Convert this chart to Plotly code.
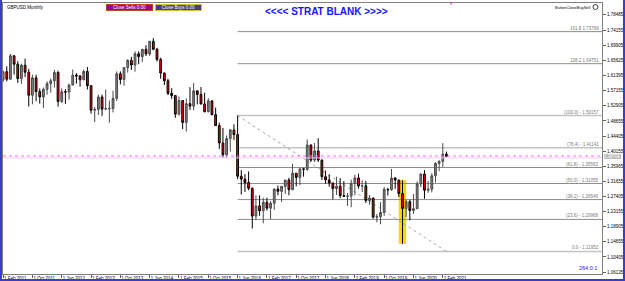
import plotly.graph_objects as go

# ---------------- data (GBPUSD, monthly) ----------------
months = [
    "2011-02","2011-03","2011-04","2011-05","2011-06","2011-07","2011-08","2011-09","2011-10","2011-11","2011-12",
    "2012-01","2012-02","2012-03","2012-04","2012-05","2012-06","2012-07","2012-08","2012-09","2012-10","2012-11","2012-12",
    "2013-01","2013-02","2013-03","2013-04","2013-05","2013-06","2013-07","2013-08","2013-09","2013-10","2013-11","2013-12",
    "2014-01","2014-02","2014-03","2014-04","2014-05","2014-06","2014-07","2014-08","2014-09","2014-10","2014-11","2014-12",
    "2015-01","2015-02","2015-03","2015-04","2015-05","2015-06","2015-07","2015-08","2015-09","2015-10","2015-11","2015-12",
    "2016-01","2016-02","2016-03","2016-04","2016-05","2016-06","2016-07","2016-08","2016-09","2016-10","2016-11","2016-12",
    "2017-01","2017-02","2017-03","2017-04","2017-05","2017-06","2017-07","2017-08","2017-09","2017-10","2017-11","2017-12",
    "2018-01","2018-02","2018-03","2018-04","2018-05","2018-06","2018-07","2018-08","2018-09","2018-10","2018-11","2018-12",
    "2019-01","2019-02","2019-03","2019-04","2019-05","2019-06","2019-07","2019-08","2019-09","2019-10","2019-11","2019-12",
    "2020-01","2020-02","2020-03","2020-04","2020-05","2020-06","2020-07","2020-08","2020-09","2020-10","2020-11","2020-12",
    "2021-01","2021-02","2021-03",
]
opens = [
    1.6015,1.6250,1.6040,1.6697,1.6461,1.6057,1.6432,1.6235,1.5587,1.6076,1.5693,
    1.5540,1.5755,1.5914,1.5995,1.6226,1.5414,1.5685,1.5678,1.5874,1.6153,1.6129,1.6024,
    1.6255,1.5856,1.5168,1.5186,1.5538,1.5198,1.5207,1.5218,1.5500,1.6191,1.6031,1.6364,
    1.6565,1.6437,1.6753,1.6674,1.6880,1.6750,1.7105,1.6880,1.6595,1.6212,1.5996,1.5640,
    1.5578,1.5056,1.5438,1.4824,1.5351,1.5281,1.5711,1.5612,1.5343,1.5126,1.5430,1.5042,
    1.4734,1.4246,1.3918,1.4369,1.4611,1.4481,1.3310,1.3231,1.3133,1.2973,1.2190,1.2477,
    1.2340,1.2580,1.2414,1.2551,1.2950,1.2886,1.3026,1.3202,1.2934,1.3397,1.3279,1.3517,
    1.3504,1.4190,1.3764,1.4023,1.3765,1.3297,1.3207,1.3122,1.2965,1.3031,1.2765,1.2747,
    1.2754,1.3110,1.3262,1.3035,1.3042,1.2627,1.2696,1.2160,1.2170,1.2293,1.2941,1.2931,
    1.3260,1.3203,1.2824,1.2404,1.2595,1.2349,1.2398,1.3094,1.3372,1.2918,1.2945,1.3324,
    1.3672,1.3730,1.3932,
]
highs = [
    1.6279,1.6402,1.6747,1.6704,1.6546,1.6476,1.6618,1.6330,1.6165,1.6166,1.5779,
    1.5807,1.5978,1.6062,1.6301,1.6279,1.5778,1.5760,1.5913,1.6309,1.6211,1.6150,1.6308,
    1.6381,1.5870,1.5262,1.5605,1.5605,1.5752,1.5443,1.5717,1.6258,1.6259,1.6385,1.6603,
    1.6668,1.6822,1.6823,1.6854,1.6996,1.7107,1.7191,1.6920,1.6644,1.6226,1.6050,1.5786,
    1.5590,1.5553,1.5449,1.5498,1.5815,1.5930,1.5730,1.5819,1.5658,1.5508,1.5440,1.5242,
    1.4817,1.4668,1.4458,1.4639,1.4770,1.5018,1.3480,1.3372,1.3445,1.2994,1.2775,1.2775,
    1.2706,1.2706,1.2615,1.2966,1.3047,1.3030,1.3210,1.3267,1.3657,1.3400,1.3549,1.3550,
    1.4345,1.4200,1.4245,1.4377,1.3782,1.3473,1.3363,1.3125,1.3298,1.3258,1.3175,1.2839,
    1.3216,1.3350,1.3383,1.3197,1.3176,1.2783,1.2710,1.2250,1.2582,1.3012,1.2985,1.3515,
    1.3285,1.3214,1.3200,1.2648,1.2647,1.2813,1.3170,1.3390,1.3482,1.3177,1.3398,1.3703,
    1.3759,1.4241,1.4003,
]
lows = [
    1.5960,1.5977,1.6020,1.6166,1.5935,1.5908,1.6101,1.5270,1.5332,1.5421,1.5352,
    1.5233,1.5604,1.5658,1.5804,1.5268,1.5370,1.5346,1.5465,1.5868,1.5914,1.5826,1.6004,
    1.5748,1.5073,1.4831,1.5030,1.5008,1.5169,1.4814,1.5105,1.5426,1.5894,1.5855,1.6224,
    1.6297,1.6251,1.6461,1.6518,1.6692,1.6692,1.6855,1.6535,1.6052,1.5875,1.5591,1.5485,
    1.4951,1.5015,1.4633,1.4565,1.5170,1.5170,1.5330,1.5330,1.5106,1.5106,1.5027,1.4730,
    1.4080,1.3836,1.3835,1.4005,1.4330,1.3228,1.2798,1.2865,1.2917,1.1841,1.2086,1.2198,
    1.1986,1.2346,1.2109,1.2366,1.2772,1.2588,1.2812,1.2774,1.2916,1.3027,1.3062,1.3300,
    1.3460,1.3713,1.3712,1.3714,1.3204,1.3100,1.3014,1.2661,1.2785,1.2696,1.2723,1.2477,
    1.2438,1.2773,1.2960,1.2866,1.2559,1.2506,1.2119,1.2014,1.1959,1.2195,1.2769,1.2905,
    1.2954,1.2725,1.1409,1.2165,1.2075,1.2252,1.2390,1.3005,1.2676,1.2845,1.2855,1.3134,
    1.3451,1.3566,1.3860,
]
closes = [
    1.6250,1.6040,1.6697,1.6461,1.6057,1.6432,1.6235,1.5587,1.6076,1.5693,1.5540,
    1.5755,1.5914,1.5995,1.6226,1.5414,1.5685,1.5678,1.5874,1.6153,1.6129,1.6024,1.6255,
    1.5856,1.5168,1.5186,1.5538,1.5198,1.5207,1.5218,1.5500,1.6191,1.6031,1.6364,1.6565,
    1.6437,1.6753,1.6674,1.6880,1.6750,1.7105,1.6880,1.6595,1.6212,1.5996,1.5640,1.5578,
    1.5056,1.5438,1.4824,1.5351,1.5281,1.5711,1.5612,1.5343,1.5126,1.5430,1.5042,1.4734,
    1.4246,1.3918,1.4369,1.4611,1.4481,1.3310,1.3231,1.3133,1.2973,1.2190,1.2477,1.2340,
    1.2580,1.2414,1.2551,1.2950,1.2886,1.3026,1.3202,1.2934,1.3397,1.3279,1.3517,1.3504,
    1.4190,1.3764,1.4023,1.3765,1.3297,1.3207,1.3122,1.2965,1.3031,1.2765,1.2747,1.2754,
    1.3110,1.3262,1.3035,1.3042,1.2627,1.2696,1.2160,1.2170,1.2293,1.2941,1.2931,1.3260,
    1.3203,1.2824,1.2404,1.2595,1.2349,1.2398,1.3094,1.3372,1.2918,1.2945,1.3324,1.3672,
    1.3730,1.3932,1.3870,
]

tick_months = ["2011-02","2011-10","2012-06","2013-02","2013-10","2014-06","2015-02","2015-10",
               "2016-06","2017-02","2017-10","2018-06","2019-02","2019-10","2020-06","2021-02"]
tick_text = ["1 Feb 2011","1 Oct 2011","1 Jun 2012","1 Feb 2013","1 Oct 2013","1 Jun 2014","1 Feb 2015","1 Oct 2015",
             "1 Jun 2016","1 Feb 2017","1 Oct 2017","1 Jun 2018","1 Feb 2019","1 Oct 2019","1 Jun 2020","1 Feb 2021"]

price_ticks = [1.78485,1.74155,1.69905,1.65625,1.61395,1.57155,1.52905,1.48655,1.44405,
               1.40155,1.35965,1.31655,1.27405,1.23155,1.18905,1.14655,1.10405,1.06135]

fib_start_month = "2016-06"
fib_end_month = "2021-03"
fib_high = 1.50157
fib_low = 1.11952
fib_ratios = [0.0, 23.6, 38.2, 50.0, 61.8, 76.4, 100.0, 138.2, 161.8]
fib_label_fmt = {0.0: "0.0 - {p}", 100.0: "(100.0) - {p}", 138.2: "138.2 {p}", 161.8: "161.8 {p}"}

highlight_month = "2020-03"
bid_line = 1.3880
ask_line = 1.3825

# ---------------- layout geometry ----------------
W, H = 625, 281
ML, MR, MT, MB = 3, 23, 3, 7
PW, PH = W - ML - MR, H - MT - MB
X_RANGE = [-0.03, 163.45]
Y_RANGE = [1.0562, 1.8181]

def px(xp):
    return (xp - ML) / PW

def py(yp):
    return 1 - (yp - MT) / PH

idx = list(range(len(months)))
FONT = "Liberation Sans, Arial, sans-serif"

fig = go.Figure()
fig.add_trace(go.Candlestick(
    x=idx, open=opens, high=highs, low=lows, close=closes,
    increasing=dict(line=dict(color="#4a4a4a", width=1), fillcolor="#808080"),
    decreasing=dict(line=dict(color="#000000", width=1), fillcolor="#ff0000"),
    whiskerwidth=0, hoverinfo="skip", showlegend=False,
))

shapes = []
annotations = []

# highlight rectangle (yellow)
hi = months.index(highlight_month)
shapes.append(dict(type="rect", xref="x", yref="y", x0=hi - 1, x1=hi + 1,
                   y0=lows[hi], y1=highs[hi], fillcolor="#ffd700", line=dict(width=0), layer="below"))

# fibonacci levels
fs = months.index(fib_start_month)
fe = months.index(fib_end_month)
for r in fib_ratios:
    p = fib_low + (fib_high - fib_low) * r / 100.0
    if r in (0.0, 100.0, 76.4):
        col, wd = "#c4c4c4", 1.5
    else:
        col, wd = "#8c8c8c", 1
    shapes.append(dict(type="line", xref="x", yref="y", x0=fs, x1=X_RANGE[1], y0=p, y1=p,
                       line=dict(color=col, width=wd), layer="below"))
    ptxt = f"{p:.5f}"
    fmt = fib_label_fmt.get(r, "(" + f"{r:.1f}" + ") - {p}")
    annotations.append(dict(x=X_RANGE[1] - 0.4, y=p, xref="x", yref="y", text=fmt.format(p=ptxt),
                            showarrow=False, xanchor="right", yanchor="bottom", yshift=-1,
                            font=dict(size=4.5, color="#7a7a7a", family=FONT)))

# fib diagonal
shapes.append(dict(type="line", xref="x", yref="y", x0=fs, y0=fib_high, x1=fe, y1=fib_low,
                   line=dict(color="#a8a8a8", width=1, dash="dot"), layer="below"))

# bid / ask lines
shapes.append(dict(type="line", xref="paper", yref="y", x0=0, x1=1, y0=bid_line, y1=bid_line,
                   line=dict(color="#ff66ff", width=1, dash="dot")))
shapes.append(dict(type="line", xref="paper", yref="y", x0=0, x1=1, y0=ask_line, y1=ask_line,
                   line=dict(color="#f4c8f4", width=1)))

# current price box
annotations.append(dict(x=1, y=closes[-1], xref="paper", yref="y", text=f"{closes[-1]:.5f}",
                        showarrow=False, xanchor="left", yanchor="middle", xshift=2,
                        bgcolor="#b8b8b8", bordercolor="#8c8c8c", borderwidth=0, borderpad=0,
                        font=dict(size=4.5, color="#ffffff", family=FONT)))

# title / labels
annotations.append(dict(x=px(327), y=py(12), xref="paper", yref="paper", text="<b>&lt;&lt;&lt;&lt; STRAT BLANK &gt;&gt;&gt;&gt;</b>",
                        showarrow=False, xanchor="center", yanchor="middle",
                        font=dict(size=10, color="#1414ff", family=FONT)))
annotations.append(dict(x=px(5), y=py(7), xref="paper", yref="paper", text="GBPUSD,Monthly",
                        showarrow=False, xanchor="left", yanchor="middle",
                        font=dict(size=4.5, color="#000000", family=FONT)))
annotations.append(dict(x=px(129.5), y=py(7), xref="paper", yref="paper", text="Close Sells 0.00",
                        showarrow=False, xanchor="center", yanchor="middle", width=45, height=5,
                        bgcolor="#9a0096", bordercolor="#c04020", borderwidth=1, borderpad=0,
                        font=dict(size=4.5, color="#ffffff", family=FONT)))
annotations.append(dict(x=px(178.5), y=py(7), xref="paper", yref="paper", text="Close Buys 0.00",
                        showarrow=False, xanchor="center", yanchor="middle", width=45, height=5,
                        bgcolor="#4a3c8c", bordercolor="#d8c030", borderwidth=1, borderpad=0,
                        font=dict(size=4.5, color="#ffffff", family=FONT)))
annotations.append(dict(x=px(592), y=py(7), xref="paper", yref="paper", text="ButtonCloseBuySell",
                        showarrow=False, xanchor="right", yanchor="middle",
                        font=dict(size=4, color="#000000", family=FONT)))
shapes.append(dict(type="circle", xref="paper", yref="paper", x0=px(593), x1=px(598), y0=py(9.5), y1=py(4.5),
                   line=dict(color="#404040", width=1)))
annotations.append(dict(x=px(599), y=py(268), xref="paper", yref="paper", text="264:0:1",
                        showarrow=False, xanchor="right", yanchor="middle",
                        font=dict(size=5.5, color="#2020ee", family=FONT)))
annotations.append(dict(x=px(451), y=py(4), xref="paper", yref="paper", text="▼",
                        showarrow=False, xanchor="center", yanchor="middle",
                        font=dict(size=4, color="#e040e0", family=FONT)))

# window frame (blue)
shapes.append(dict(type="line", xref="paper", yref="paper", x0=px(1), x1=px(1), y0=py(0), y1=py(281),
                   line=dict(color="#3c3cc8", width=2)))
shapes.append(dict(type="line", xref="paper", yref="paper", x0=px(0), x1=px(625), y0=py(280), y1=py(280),
                   line=dict(color="#3c3cc8", width=2)))
shapes.append(dict(type="line", xref="paper", yref="paper", x0=px(624), x1=px(624), y0=py(0), y1=py(281),
                   line=dict(color="#3c3cc8", width=2)))

fig.update_layout(
    width=W, height=H,
    margin=dict(l=ML, r=MR, t=MT, b=MB, pad=0, autoexpand=False),
    paper_bgcolor="#ffffff", plot_bgcolor="#ffffff",
    shapes=shapes, annotations=annotations,
    showlegend=False,
    font=dict(family=FONT, size=5, color="#000000"),
    xaxis=dict(range=X_RANGE, rangeslider=dict(visible=False), showgrid=False, zeroline=False,
               tickmode="array", tickvals=[months.index(m) for m in tick_months], ticktext=tick_text,
               ticks="outside", ticklen=3, tickcolor="#606060", ticklabelposition="outside right",
               tickangle=0, automargin=False,
               showline=True, linecolor="#808080", mirror=True,
               tickfont=dict(size=4.5, color="#000000", family=FONT)),
    yaxis=dict(range=Y_RANGE, side="right", showgrid=False, zeroline=False, automargin=False,
               tickmode="array", tickvals=price_ticks, ticktext=[f"{v:.5f}" for v in price_ticks],
               ticks="outside", ticklen=3, tickcolor="#606060",
               showline=True, linecolor="#808080", mirror=True,
               tickfont=dict(size=4.5, color="#000000", family=FONT)),
)

fig.write_html("out.html")
